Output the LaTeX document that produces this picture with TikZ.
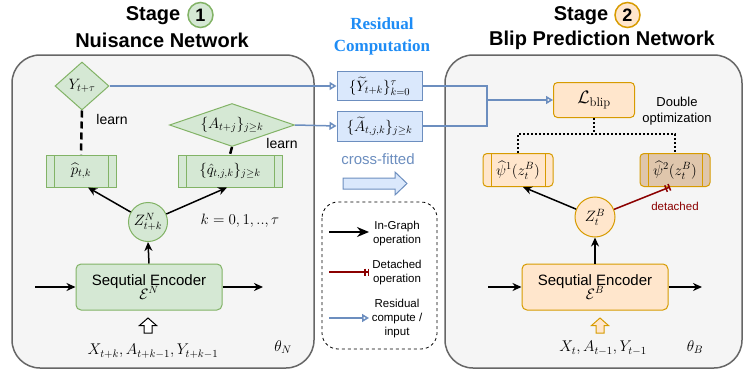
\RequirePackage{fix-cm}
\documentclass[tikz,border=0pt]{standalone}
\usepackage{amsmath}
\usepackage{fontspec}
\newfontfamily\lsans{Liberation Sans}
\newfontfamily\lserif{Liberation Serif}
\usetikzlibrary{arrows.meta,shapes.geometric,calc}
\definecolor{gfill}{HTML}{D5E8D4}
\definecolor{gdraw}{HTML}{82B366}
\definecolor{ofill}{HTML}{FFE6CC}
\definecolor{odraw}{HTML}{D79B00}
\definecolor{bfill}{HTML}{DAE8FC}
\definecolor{bdraw}{HTML}{6C8EBF}
\definecolor{bgfill}{HTML}{F5F5F5}
\definecolor{bgdraw}{HTML}{666666}
\definecolor{dred}{HTML}{8B0000}
\definecolor{tanfill}{HTML}{DFC6AC}
\definecolor{resblue}{HTML}{1E8CF5}
\tikzset{
  bg/.style={fill=bgfill, draw=bgdraw, line width=1.5pt, rounded corners=28pt},
  gbox/.style={draw=gdraw, fill=gfill, line width=1pt},
  obox/.style={draw=odraw, fill=ofill, line width=1pt},
  bbox/.style={draw=bdraw, fill=bfill, line width=1pt},
  proc/.style={path picture={\draw[#1,line width=1pt]
      ([xshift=8pt]path picture bounding box.north west) -- ([xshift=8pt]path picture bounding box.south west)
      ([xshift=-8pt]path picture bounding box.north east) -- ([xshift=-8pt]path picture bounding box.south east);}},
  mathlbl/.style={font=\fontsize{15}{17}\selectfont, inner sep=0pt},
  inlbl/.style={font=\fontsize{15.5}{17}\selectfont, inner sep=0pt},
  title/.style={font=\lsans\bfseries\fontsize{20}{22}\selectfont, inner sep=0pt},
  numc/.style={circle, line width=1.5pt, minimum size=25pt, inner sep=0pt, font=\lsans\bfseries\fontsize{18}{20}\selectfont},
  enc/.style={rounded corners=5pt, minimum width=146pt, minimum height=46pt, align=center, inner sep=0pt, font=\fontsize{15}{16}\selectfont},
  inarrow/.style={line width=1.5pt, -{Stealth[length=9pt,width=8pt]}},
  resarrow/.style={line width=1.5pt, draw=bdraw, -{Triangle[open,length=7pt,width=8pt]}},
  resline/.style={line width=1.5pt, draw=bdraw},
  detarrow/.style={line width=1.5pt, draw=dred, -{Bar[width=7pt,sep=2pt]Bar[width=7pt]}},
  learnline/.style={line width=2.5pt, dash pattern=on 7pt off 4pt},
  dotline/.style={line width=2pt, dash pattern=on 2pt off 2pt},
  sanslbl/.style={font=\lsans\fontsize{14}{16}\selectfont, inner sep=0pt, align=center},
  leglbl/.style={font=\lsans\fontsize{11.5}{14}\selectfont, inner sep=0pt, align=center},
}
\begin{document}
\begin{tikzpicture}[x=1pt,y=-1pt]
\useasboundingbox (0,0) rectangle (748,372);

% background panels
\path[bg] (12,55) rectangle (314,368);
\path[bg] (445,55) rectangle (742,368);

% titles
\node[title] (st1) at (153,16) {Stage};
\node[numc, fill=gfill, draw=gdraw] (c1) at (200.5,15) {1};
\node[title] (nn) at (162,40) {Nuisance Network};
\node[title] (st2) at (581,16) {Stage};
\node[numc, fill=ofill, draw=odraw] (c2) at (627.5,15) {2};
\node[title] (bpn) at (602,40) {Blip Prediction Network};
\node[font=\lserif\bfseries\fontsize{17}{22}\selectfont, text=resblue, align=center, inner sep=0pt] (rc) at (382,36) {Residual\\Computation};

% ---------- Stage 1 ----------
\node[diamond, gbox, minimum width=54pt, minimum height=48pt, inner sep=0pt] (Ydia) at (82,86) {};
\node[mathlbl] (Ytxt) at (Ydia) {$Y_{t+\tau}$};
\node[diamond, gbox, minimum width=125pt, minimum height=43pt, inner sep=0pt] (Adia) at (232,125) {};
\node[mathlbl] (Atxt) at (Adia) {$\{A_{t+j}\}_{j\geq k}$};
\node[sanslbl] (learn1) at (112,119) {learn};
\node[sanslbl] (learn2) at (282,143) {learn};

\node[gbox, proc=gdraw, minimum width=70pt, minimum height=32pt, inner sep=0pt, mathlbl] (pbox) at (81,171) {$\widehat{p}_{t,k}$};
\node[gbox, proc=gdraw, minimum width=104pt, minimum height=32pt, inner sep=0pt, mathlbl] (qbox) at (230,171) {$\{\hat{q}_{t,j,k}\}_{j\geq k}$};

\node[circle, gbox, minimum size=39pt, inner sep=0pt, mathlbl] (ZN) at (148,222) {$Z^N_{t+k}$};
\node[mathlbl] (klbl) at (240,221) {$k=0,1,..,\tau$};

\node[enc, gbox] (EncN) at (149,287) {{\lsans Sequtial Encoder}\\[-2pt]$\mathcal{E}^N$};
\coordinate (inN) at (35,287);
\coordinate (outN) at (263,287);

\path[draw=black, fill=white, line width=1pt] (148,318) -- (156.5,325.5) -- (152,325.5) -- (152,333) -- (144,333) -- (144,325.5) -- (139.5,325.5) -- cycle;
\node[inlbl] (xinN) at (153,351) {$X_{t+k},A_{t+k-1},Y_{t+k-1}$};
\node[inlbl] (thN) at (283,347) {$\theta_N$};

\draw[learnline] (Ydia.south) -- (pbox.north);
\draw[learnline] (Adia.south) -- (qbox.north);
\draw[inarrow] (ZN) -- ([xshift=7pt]pbox.south);
\draw[inarrow] (ZN) -- ([xshift=-3pt]qbox.south);
\draw[inarrow] (EncN.north) -- (ZN.south);
\draw[inarrow] (inN) -- (EncN.west);
\draw[inarrow] (EncN.east) -- (outN);

% ---------- Middle ----------
\node[bbox, minimum width=85pt, minimum height=29pt, inner sep=0pt, mathlbl] (Ybox) at (379.5,86) {$\{\widetilde{Y}_{t+k}\}_{k=0}^{\tau}$};
\node[bbox, minimum width=85pt, minimum height=30pt, inner sep=0pt, mathlbl] (Abox) at (379.5,126) {$\{\widetilde{A}_{t,j,k}\}_{j\geq k}$};
\node[font=\lsans\fontsize{15}{17}\selectfont, text=bdraw, inner sep=0pt] (cf) at (378,159) {cross-fitted};
\path[draw=bdraw, fill=bfill, line width=1pt] (343,178) -- (395,178) -- (395,172) -- (407,183.5) -- (395,195) -- (395,189) -- (343,189) -- cycle;

\draw[dashed, line width=0.8pt, rounded corners=16pt] (322,202) rectangle (437,349);
\coordinate (l1a) at (329,232); \coordinate (l1b) at (369,232);
\coordinate (l2a) at (329,272); \coordinate (l2b) at (369,272);
\coordinate (l3a) at (329,318); \coordinate (l3b) at (369,318);
\draw[line width=1.5pt, -{Stealth[length=12pt,width=10pt]}] (l1a) -- (l1b);
\draw[detarrow] (l2a) -- (l2b);
\draw[resarrow] (l3a) -- (l3b);
\node[leglbl] (lg1) at (397,234) {In-Graph\\operation};
\node[leglbl] (lg2) at (397,273) {Detached\\operation};
\node[leglbl] (lg3) at (397,319) {Residual\\compute /\\input};

% ---------- Stage 2 ----------
\node[obox, rounded corners=4pt, minimum width=81pt, minimum height=35pt, inner sep=0pt, font=\fontsize{18}{20}\selectfont] (Lblip) at (594,100) {$\mathcal{L}_{\mathrm{blip}}$};
\node[font=\lsans\fontsize{13}{16}\selectfont, align=center, inner sep=0pt] (dopt) at (677,111) {Double\\optimization};

\node[obox, rounded corners=4pt, proc=odraw, minimum width=70pt, minimum height=33pt, inner sep=0pt, mathlbl] (psi1) at (518,170) {$\widehat{\psi}^1(z^B_t)$};
\node[draw=odraw, fill=tanfill, line width=1pt, rounded corners=4pt, proc=odraw, minimum width=70pt, minimum height=33pt, inner sep=0pt, mathlbl] (psi2) at (675,170) {$\widehat{\psi}^2(z^B_t)$};

\node[circle, obox, minimum size=40pt, inner sep=0pt, mathlbl] (ZB) at (595,217) {$Z^B_t$};
\node[enc, obox] (EncB) at (595,287) {{\lsans Sequtial Encoder}\\[-2pt]$\mathcal{E}^B$};
\coordinate (inB) at (488,287);
\coordinate (outB) at (702,287);
\path[draw=odraw, fill=ofill, line width=1pt] (600,318) -- (608.5,325.5) -- (604,325.5) -- (604,333) -- (596,333) -- (596,325.5) -- (591.5,325.5) -- cycle;
\node[inlbl] (xinB) at (603,348) {$X_t,A_{t-1},Y_{t-1}$};
\node[inlbl] (thB) at (695,347) {$\theta_B$};
\node[font=\lsans\fontsize{11.5}{13}\selectfont, text=dred, inner sep=0pt] (det) at (675,206) {detached};

\draw[inarrow] (ZB) -- ([xshift=5pt]psi1.south);
\draw[detarrow] (ZB) -- ([xshift=-5pt]psi2.south);
\draw[inarrow] (EncB.north) -- (ZB.south);
\draw[inarrow] (inB) -- (EncB.west);
\draw[inarrow] (EncB.east) -- (outB);

\coordinate (dj) at (594,134);
\draw[dotline] (Lblip.south) -- (dj);
\draw[dotline] (psi1.north) |- (dj) -| (psi2.north);

% residual connectors
\draw[resarrow] (Ydia.east) -- (Ybox.west);
\draw[resarrow] (Adia.east) -- (Abox.west);
\coordinate (j1) at (487,86);
\coordinate (j2) at (487,126);
\coordinate (jm) at (487,100);
\draw[resline] (Ybox.east) -- (j1) -- (j2) -- (Abox.east);
\draw[resarrow] (jm) -- (Lblip.west);
\end{tikzpicture}
\end{document}
